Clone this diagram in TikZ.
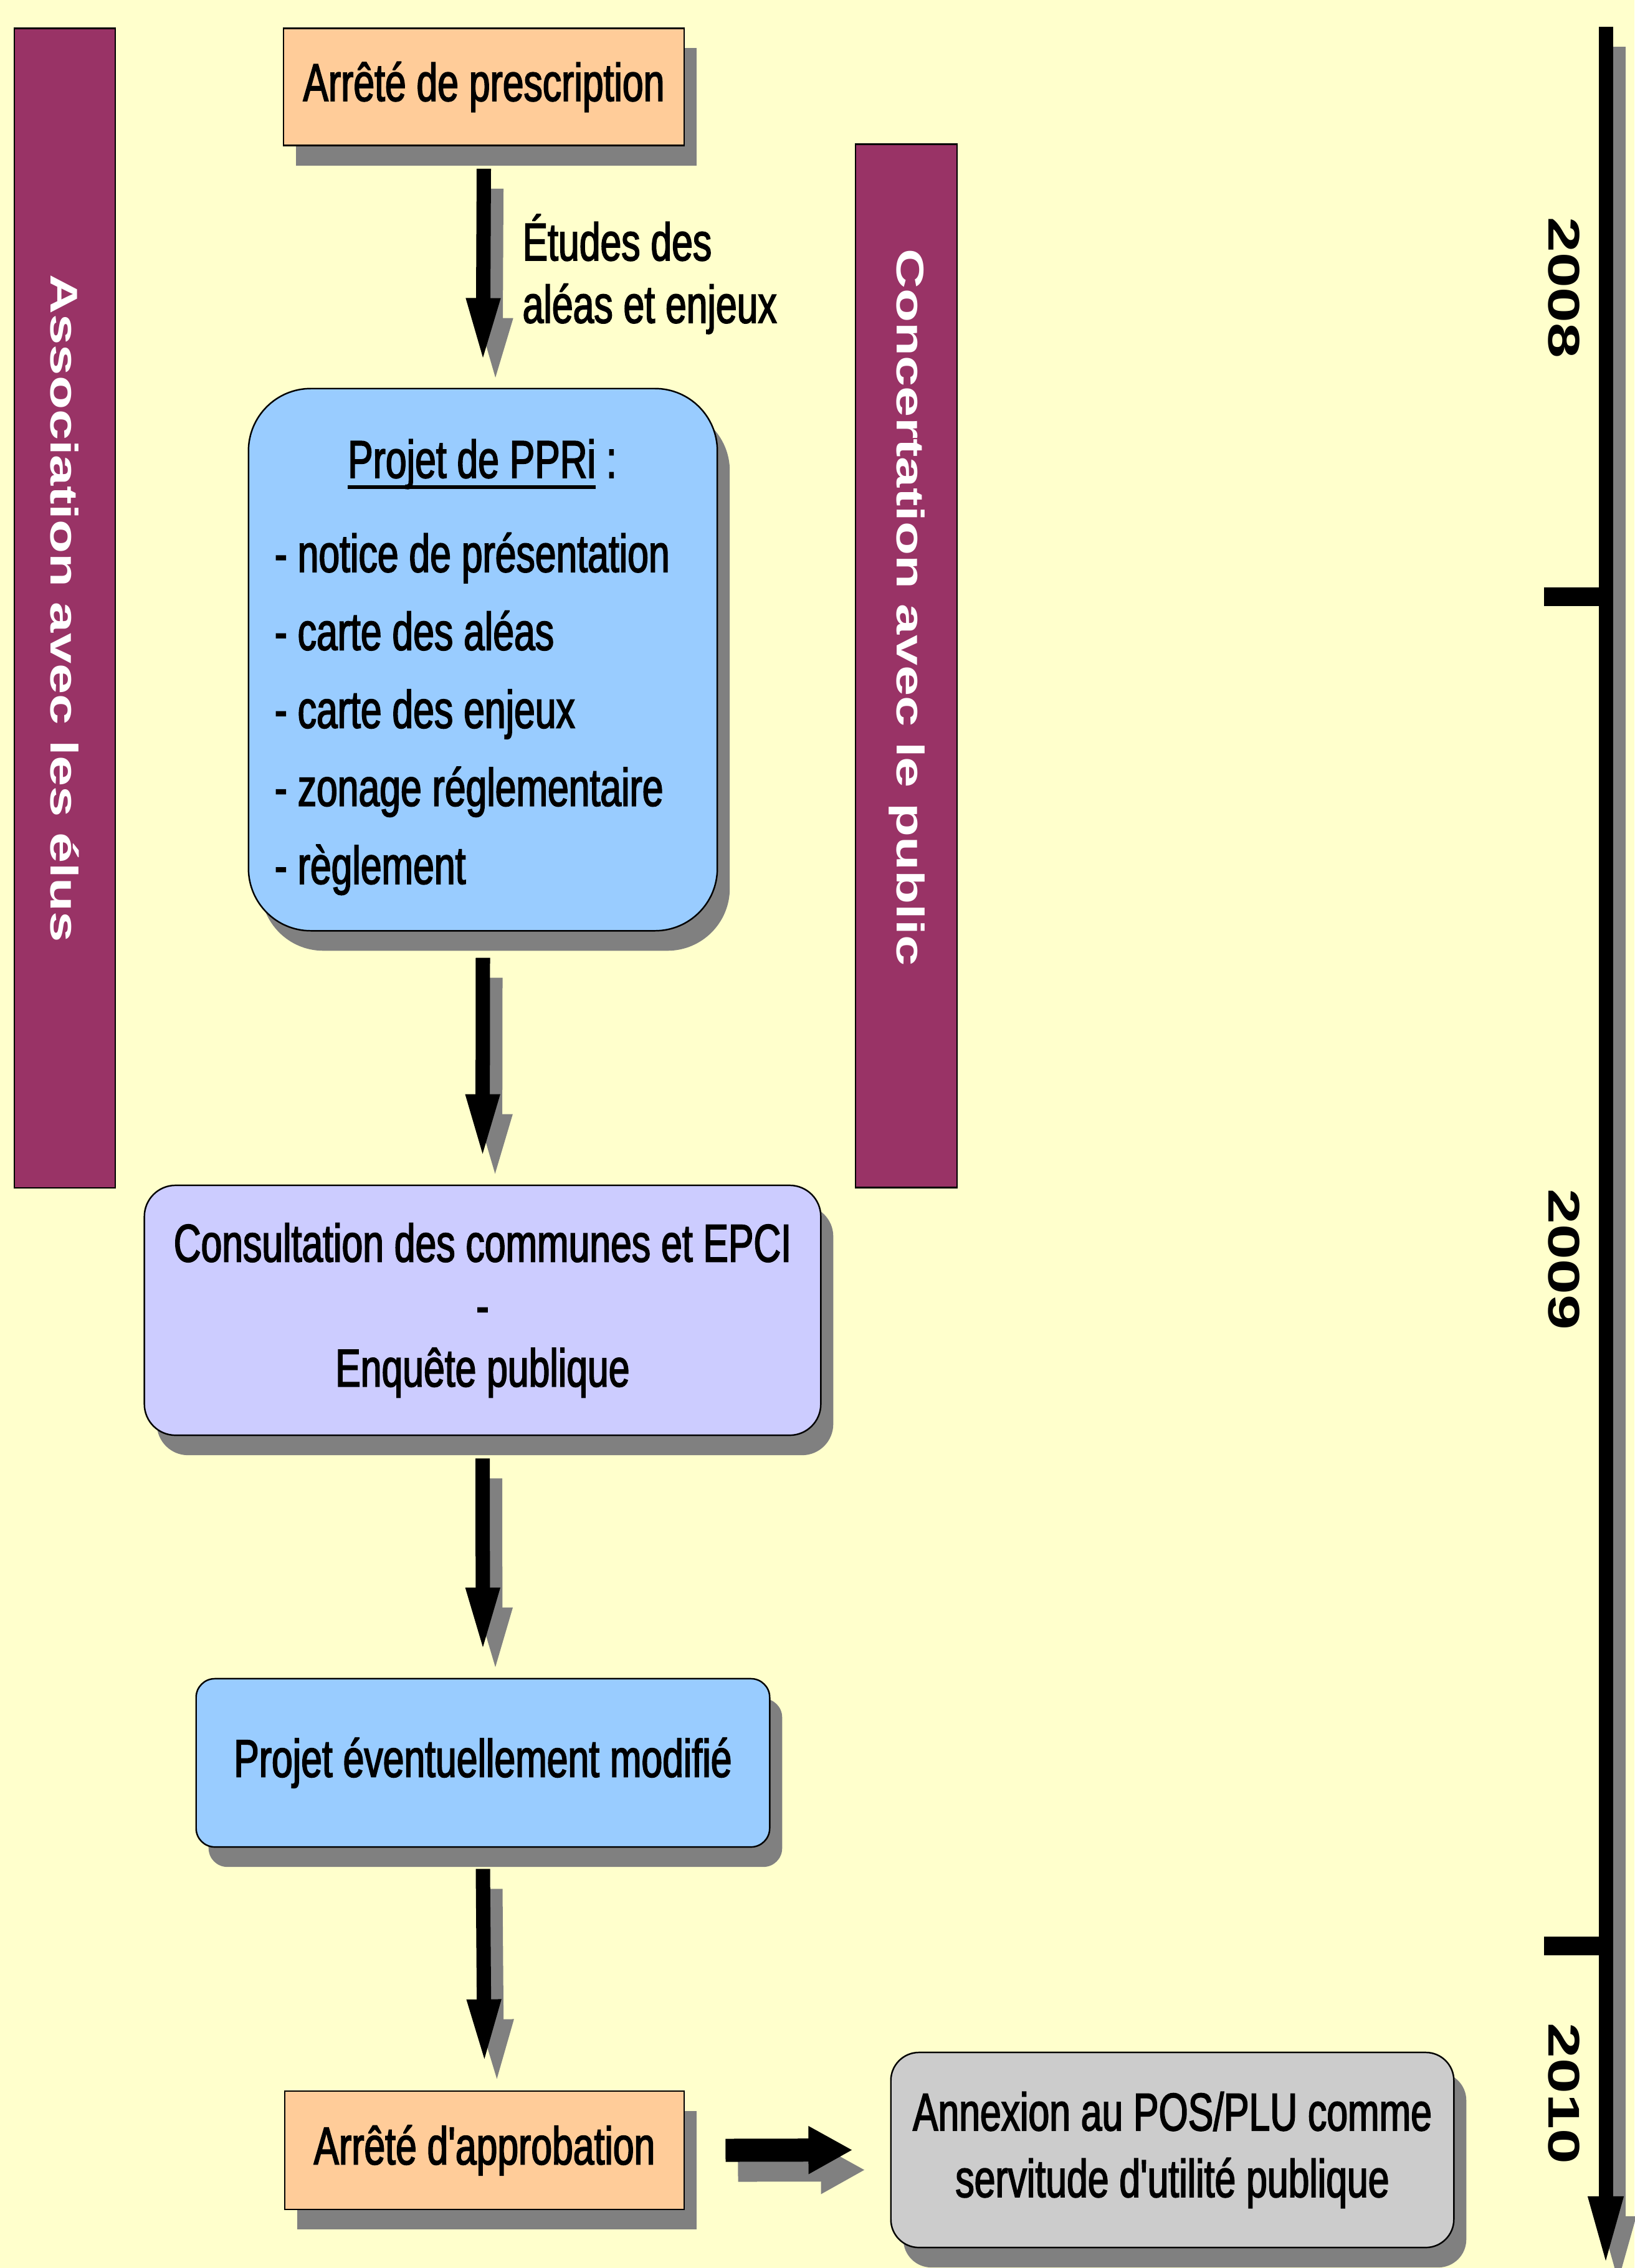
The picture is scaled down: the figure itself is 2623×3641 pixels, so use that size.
\documentclass[tikz,border=0pt]{standalone}
\usepackage{fontspec}
\setmainfont{Liberation Sans}
\newfontfamily\narrowsf[FakeStretch=0.71,FakeBold=2]{Liberation Sans}
\newfontfamily\widesf[FakeStretch=1.43]{Liberation Sans}
\usetikzlibrary{arrows.meta,shadows}

\definecolor{paperyellow}{HTML}{FFFFCC}
\definecolor{boxpeach}{HTML}{FFCC99}
\definecolor{boxblue}{HTML}{99CCFF}
\definecolor{boxlavender}{HTML}{CCCCFF}
\definecolor{boxgrey}{HTML}{CCCCCC}
\definecolor{barplum}{HTML}{993366}
\definecolor{shadowgrey}{HTML}{808080}

\tikzset{
  steptext/.style={inner sep=0pt, align=center, font=\narrowsf\fontsize{24.3}{28.5}\selectfont},
  stepbox/.style={steptext, draw=black, line width=0.7pt,
    drop shadow={shadow xshift=0.2cm, shadow yshift=-0.32cm, fill=shadowgrey, opacity=1}},
  sidebar/.style={draw=black, line width=0.6pt, fill=barplum, inner sep=0pt},
  sidetext/.style={rotate=-90, inner sep=0pt, text=white, font=\widesf\bfseries\fontsize{17.6}{20}\selectfont},
  yeartext/.style={rotate=-90, inner sep=0pt, font=\widesf\bfseries\fontsize{20.3}{24}\selectfont},
  flow/.style={line width=0.23cm, -{Triangle[length=1.08cm,width=0.48cm]}},
  sideflow/.style={line width=0.37cm, -{Triangle[length=0.71cm,width=0.72cm]}},
  timeflow/.style={line width=0.23cm, -{Triangle[length=1.15cm,width=0.5cm]}},
  timetick/.style={line width=0.3cm}
}

% arrow with its grey shadow
\newcommand\shadedflow[3]{%
  \draw[#1, color=shadowgrey, transform canvas={shift={(0.2cm,-0.32cm)}}] #2 -- #3;
  \draw[#1] #2 -- #3;
}
% heavier underline
\newcommand\thickul[1]{{\setbox0\hbox{#1}\rlap{\rule[-5pt]{\wd0}{1.5pt}}\box0}}

\begin{document}
\begin{tikzpicture}[x=0.01cm,y=-0.01cm]
    \fill[paperyellow] (0,0) rectangle (2623,3641);
    \useasboundingbox (0,0) rectangle (2623,3641);

    % side bars
    \node[sidebar, minimum width=1.62cm, minimum height=18.6cm] (assoc) at (104,976) {};
    \node[sidetext] (assoctext) at (104,977) {Association avec les élus};
    \node[sidebar, minimum width=1.63cm, minimum height=16.74cm] (concert) at (1454.5,1069) {};
    \node[sidetext] (concerttext) at (1455,975) {Concertation avec le public};

    % steps
    \node[stepbox, fill=boxpeach, minimum width=6.43cm, minimum height=1.88cm] (presc) at (776.5,139.5) {Arrêté de prescription};
    \node[steptext, anchor=west, align=left] (etudes) at (838,440) {Études des\\aléas et enjeux};

    \node[stepbox, fill=boxblue, rounded corners=1cm, minimum width=7.52cm, minimum height=8.7cm] (ppri) at (775,1059) {};
    \node[steptext] (pprititle) at (774,745) {\thickul{Projet de PPRi} :};
    \node[steptext, anchor=west, align=left, font=\narrowsf\fontsize{24.3}{35.6}\selectfont] (pprilist) at (440,1146)
      {- notice de présentation\\- carte des aléas\\- carte des enjeux\\- zonage réglementaire\\- règlement};

    \node[stepbox, fill=boxlavender, rounded corners=0.5cm, minimum width=10.85cm, minimum height=4.01cm] (consult) at (774.5,2103.5)
      {Consultation des communes et EPCI\\-\\Enquête publique};
    \node[stepbox, fill=boxblue, rounded corners=0.3cm, minimum width=9.2cm, minimum height=2.7cm] (modif) at (775,2830)
      {Projet éventuellement modifié};
    \node[stepbox, fill=boxpeach, minimum width=6.41cm, minimum height=1.9cm] (approb) at (777.5,3452) {Arrêté d'approbation};
    \node[stepbox, fill=boxgrey, rounded corners=0.45cm, minimum width=9.03cm, minimum height=3.13cm,
      font=\narrowsf\fontsize{24.3}{30.4}\selectfont] (annex) at (1881.5,3451.5)
      {Annexion au POS/PLU comme\\servitude d'utilité publique};

    % arrows
    \shadedflow{flow}{([yshift=-0.36cm]presc.south)}{([yshift=0.36cm]ppri.north)}
    \shadedflow{flow}{([yshift=-0.42cm]ppri.south)}{([yshift=0.37cm]consult.north)}
    \shadedflow{flow}{([yshift=-0.36cm]consult.south)}{([yshift=0.37cm]modif.north)}
    \shadedflow{flow}{([yshift=-0.34cm]modif.south)}{([yshift=0.38cm]approb.north)}
    \shadedflow{sideflow}{([xshift=0.65cm]approb.east)}{([xshift=-0.6cm]annex.west)}

    % time line
    \coordinate (ttop) at (2577,43);
    \coordinate (tbot) at (2577,3641);
    \shadedflow{timeflow}{(ttop)}{(tbot)}
    \foreach \ty in {958,3124}
      \draw[timetick] (2478,\ty) -- (2578,\ty);
    \node[yeartext] (y2008) at (2510,462) {2008};
    \node[yeartext] (y2009) at (2510,2022) {2009};
    \node[yeartext] (y2010) at (2510,3361) {2010};
\end{tikzpicture}
\end{document}
